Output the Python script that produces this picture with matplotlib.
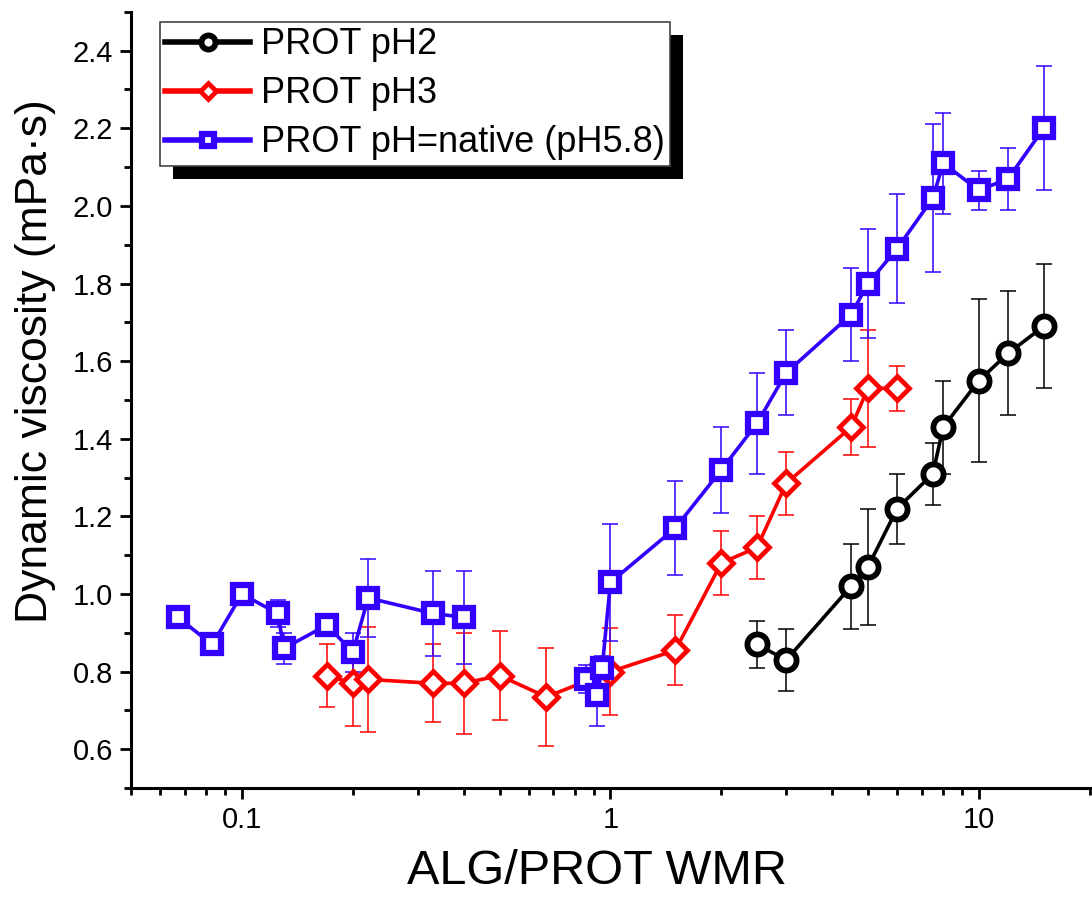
import numpy as np
import matplotlib
matplotlib.use('Agg')
import matplotlib.pyplot as plt
import matplotlib.ticker as ticker
from matplotlib.patches import Rectangle

plt.rcParams['font.family'] = ['Liberation Sans', 'DejaVu Sans']

# PROT pH2
x_ph2 = [2.5, 3, 4.5, 5, 6, 7.5, 8, 10, 12, 15]
y_ph2 = [0.87, 0.83, 1.02, 1.07, 1.22, 1.31, 1.43, 1.55, 1.62, 1.69]
e_ph2 = [0.06, 0.08, 0.11, 0.15, 0.09, 0.08, 0.12, 0.21, 0.16, 0.16]

# PROT pH3
x_ph3 = [0.17, 0.2, 0.22, 0.33, 0.4, 0.5, 0.67, 1, 1.5, 2, 2.5, 3, 4.5, 5, 6]
y_ph3 = [0.79, 0.77, 0.78, 0.77, 0.77, 0.79, 0.735, 0.80, 0.855, 1.08, 1.12, 1.285, 1.43, 1.53, 1.53]
e_ph3 = [0.08, 0.11, 0.135, 0.10, 0.13, 0.115, 0.127, 0.112, 0.09, 0.082, 0.08, 0.082, 0.073, 0.15, 0.058]

# PROT pH=native (pH5.8), line is broken between 0.4 and 0.86
x_nat = [0.067, 0.083, 0.1, 0.125, 0.13, 0.17, 0.2, 0.22, 0.33, 0.4,
         0.86, 0.92, 0.95, 1, 1.5, 2, 2.5, 3, 4.5, 5, 6, 7.5, 8, 10, 12, 15]
y_nat = [0.94, 0.87, 1.0, 0.95, 0.86, 0.92, 0.85, 0.99, 0.95, 0.94,
         0.78, 0.74, 0.81, 1.03, 1.17, 1.32, 1.44, 1.57, 1.72, 1.80, 1.89, 2.02, 2.11, 2.04, 2.07, 2.20]
e_nat = [0, 0, 0, 0.035, 0.04, 0, 0.05, 0.10, 0.11, 0.12,
         0.036, 0.08, 0.03, 0.15, 0.12, 0.11, 0.13, 0.11, 0.12, 0.14, 0.14, 0.19, 0.13, 0.05, 0.08, 0.16]
nat_break = 10

labels = ['PROT pH2', 'PROT pH3', 'PROT pH=native (pH5.8)']
blue = '#3300ff'

fig = plt.figure(figsize=(10.92, 9.09), dpi=100)
ax = fig.add_axes([0.12, 0.133, 0.878, 0.854])

kw = dict(lw=2.6, mfc='white', elinewidth=1.1, capsize=6, capthick=1.1)
c1 = ax.errorbar(x_ph2, y_ph2, yerr=e_ph2, color='black', marker='o', ms=14.5, **kw)
c2 = ax.errorbar(x_ph3, y_ph3, yerr=e_ph3, color='red', marker='D', ms=12, **kw)
c3 = ax.errorbar(x_nat[:nat_break], y_nat[:nat_break], yerr=e_nat[:nat_break], color=blue,
                 marker='s', ms=13, **kw)
c4 = ax.errorbar(x_nat[nat_break:], y_nat[nat_break:], yerr=e_nat[nat_break:], color=blue,
                 marker='s', ms=13, **kw)
c1[0].set_markeredgewidth(4.2)
c2[0].set_markeredgewidth(3.4)
c3[0].set_markeredgewidth(4.5)
c4[0].set_markeredgewidth(4.5)

ax.set_xscale('log')
ax.set_xlim(0.05, 20)
ax.set_ylim(0.5, 2.5)
ax.xaxis.set_major_locator(ticker.LogLocator(base=10, numticks=10))
ax.xaxis.set_minor_locator(ticker.LogLocator(base=10, subs=np.arange(2, 10), numticks=20))
ax.xaxis.set_major_formatter(ticker.FormatStrFormatter('%g'))
ax.xaxis.set_minor_formatter(ticker.NullFormatter())
ax.yaxis.set_major_locator(ticker.MultipleLocator(0.2))
ax.yaxis.set_minor_locator(ticker.MultipleLocator(0.1))
ax.yaxis.set_major_formatter(ticker.FormatStrFormatter('%.1f'))

for s in ['top', 'right']:
    ax.spines[s].set_visible(False)
for s in ['left', 'bottom']:
    ax.spines[s].set_linewidth(2.2)
ax.tick_params(which='major', direction='out', length=8, width=2, labelsize=21, pad=5)
ax.tick_params(which='minor', direction='out', length=5, width=2)

ax.set_xlabel('ALG/PROT WMR', fontsize=35)
ax.set_ylabel('Dynamic viscosity (mPa\u00b7s)', fontsize=32)
ax.xaxis.set_label_coords(0.486, -0.078)
ax.yaxis.set_label_coords(-0.078, 0.55)

leg = ax.legend([c1[0], c2[0], c3[0]], labels,
                loc='upper left', bbox_to_anchor=(0.030, 0.987), borderaxespad=0,
                fontsize=26, frameon=True, fancybox=False, edgecolor='#444444',
                handlelength=2.35, handletextpad=0.3, labelspacing=0.39,
                borderpad=0.15, framealpha=1, markerscale=0.7)
leg.get_frame().set_linewidth(1.2)
for h in leg.get_lines():
    h.set_linewidth(4)

# black drop shadow behind legend
fig.canvas.draw()
bb = leg.get_window_extent().transformed(ax.transAxes.inverted())
dx = 13 / (ax.bbox.width)
dy = 13 / (ax.bbox.height)
ax.add_patch(Rectangle((bb.x0 + dx, bb.y0 - dy), bb.width, bb.height,
                       transform=ax.transAxes, facecolor='black', edgecolor='none',
                       zorder=4.9, clip_on=False))

plt.savefig('out.png', dpi=100)
